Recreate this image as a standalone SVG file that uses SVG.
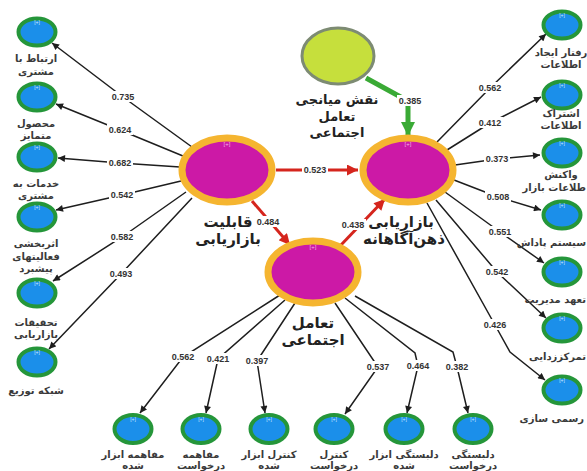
<svg xmlns="http://www.w3.org/2000/svg" width="587" height="471" viewBox="0 0 587 471">
<style>
.sm{fill:#1b8fea;stroke:#25963a;stroke-width:4}
.mn{fill:#cc19a6;stroke:#f5b530;stroke-width:7}
.lm{fill:#c6df3c;stroke:#7d8b73;stroke-width:3}
.pl{font-family:"Liberation Sans",sans-serif;font-size:5px;fill:#cfe9ff;text-anchor:middle}
.pm{font-family:"Liberation Sans",sans-serif;font-size:6px;fill:#f3b5e2;text-anchor:middle}
.lb{font-family:"DejaVu Sans","Noto Sans",sans-serif;font-size:10px;font-weight:bold;fill:#3a3a3a;text-anchor:middle}
.lbe{font-family:"DejaVu Sans","Noto Sans",sans-serif;font-size:10px;font-weight:bold;fill:#3a3a3a;text-anchor:end}
.big{font-family:"DejaVu Sans","Noto Sans",sans-serif;font-size:15px;font-weight:bold;fill:#222;text-anchor:middle}
.mid{font-family:"DejaVu Sans","Noto Sans",sans-serif;font-size:13px;font-weight:bold;fill:#222;text-anchor:middle}
.num{font-family:"Liberation Sans",sans-serif;font-size:9px;font-weight:bold;fill:#333;text-anchor:middle}
.bk{fill:none;stroke:#1e1e1e;stroke-width:1.5;marker-end:url(#ab)}
.rd{fill:none;stroke:#d5251d;stroke-width:3;marker-end:url(#ar)}
.gr{fill:none;stroke:#3aaa35;stroke-width:5;marker-end:url(#ag)}
.bg{fill:#fff}
</style>
<defs>
<marker id="ab" viewBox="0 0 10 10" refX="10" refY="5" markerWidth="8" markerHeight="7" markerUnits="userSpaceOnUse" orient="auto"><path d="M0,0 L10,5 L0,10 z" fill="#1e1e1e"/></marker>
<marker id="ar" viewBox="0 0 10 10" refX="10" refY="5" markerWidth="13" markerHeight="11" markerUnits="userSpaceOnUse" orient="auto"><path d="M0,0 L10,5 L0,10 z" fill="#d5251d"/></marker>
<marker id="ag" viewBox="0 0 10 10" refX="10" refY="5" markerWidth="14" markerHeight="15" markerUnits="userSpaceOnUse" orient="auto"><path d="M0,0 L10,5 L0,10 z" fill="#3aaa35"/></marker>
</defs>
<rect width="587" height="471" fill="#fff"/>
<g id="connectors">
<polyline class="bk" points="192,147 123,97 52,43"/>
<polyline class="bk" points="183,156 120,130 56,104"/>
<polyline class="bk" points="180,167 120,163 58,158"/>
<polyline class="bk" points="181,181 122,195 56,210"/>
<polyline class="bk" points="186,192 122,237 53,281"/>
<polyline class="bk" points="192,198 121,274 49,349"/>
<polyline class="bk" points="437,142 490,88 546,34"/>
<polyline class="bk" points="447,150 490,123 541,97"/>
<polyline class="bk" points="455,165 497,159 540,155"/>
<polyline class="bk" points="454,180 498,197 541,210"/>
<polyline class="bk" points="445,192 500,232 544,263"/>
<polyline class="bk" points="436,200 497,272 546,318"/>
<polyline class="bk" points="427,203 495,325 510,352 545,380"/>
<polyline class="bk" points="280,295 183,357 140,413"/>
<polyline class="bk" points="285,300 218,359 206,413"/>
<polyline class="bk" points="295,303 257,361 265,413"/>
<polyline class="bk" points="335,303 378,367 345,414"/>
<polyline class="bk" points="345,298 415,353 418,366 407,413"/>
<polyline class="bk" points="355,296 453,352 457,367 468,413"/>
<polyline class="rd" points="276,170 358,170"/>
<polyline class="rd" points="252,201 290,245"/>
<polyline class="rd" points="340,246 385,199"/>
<polyline class="gr" points="366,78 408,101 408,136"/>
<g id="weights">
<rect class="bg" x="110" y="91" width="26" height="11"/><text class="num" x="123" y="100">0.735</text>
<rect class="bg" x="107" y="124" width="26" height="11"/><text class="num" x="120" y="133">0.624</text>
<rect class="bg" x="107" y="157" width="26" height="11"/><text class="num" x="120" y="166">0.682</text>
<rect class="bg" x="109" y="189" width="26" height="11"/><text class="num" x="122" y="198">0.542</text>
<rect class="bg" x="109" y="231" width="26" height="11"/><text class="num" x="122" y="240">0.582</text>
<rect class="bg" x="108" y="268" width="26" height="11"/><text class="num" x="121" y="277">0.493</text>
<rect class="bg" x="477" y="82" width="26" height="11"/><text class="num" x="490" y="91">0.562</text>
<rect class="bg" x="477" y="117" width="26" height="11"/><text class="num" x="490" y="126">0.412</text>
<rect class="bg" x="484" y="153" width="26" height="11"/><text class="num" x="497" y="162">0.373</text>
<rect class="bg" x="485" y="191" width="26" height="11"/><text class="num" x="498" y="200">0.508</text>
<rect class="bg" x="487" y="226" width="26" height="11"/><text class="num" x="500" y="235">0.551</text>
<rect class="bg" x="484" y="266" width="26" height="11"/><text class="num" x="497" y="275">0.542</text>
<rect class="bg" x="482" y="319" width="26" height="11"/><text class="num" x="495" y="328">0.426</text>
<rect class="bg" x="170" y="351" width="26" height="11"/><text class="num" x="183" y="360">0.562</text>
<rect class="bg" x="205" y="353" width="26" height="11"/><text class="num" x="218" y="362">0.421</text>
<rect class="bg" x="244" y="355" width="26" height="11"/><text class="num" x="257" y="364">0.397</text>
<rect class="bg" x="365" y="361" width="26" height="11"/><text class="num" x="378" y="370">0.537</text>
<rect class="bg" x="405" y="360" width="26" height="11"/><text class="num" x="418" y="369">0.464</text>
<rect class="bg" x="444" y="361" width="26" height="11"/><text class="num" x="457" y="370">0.382</text>
<rect class="bg" x="302" y="164" width="26" height="11"/><text class="num" x="315" y="173">0.523</text>
<rect class="bg" x="255" y="216" width="26" height="11"/><text class="num" x="268" y="225">0.484</text>
<rect class="bg" x="340" y="219" width="26" height="11"/><text class="num" x="353" y="228">0.438</text>
<rect class="bg" x="397" y="95" width="26" height="11"/><text class="num" x="410" y="104">0.385</text>
</g>
</g>
<g id="n-qabeliat"><ellipse class="mn" cx="227" cy="170" rx="45" ry="32"/><text class="pm" x="227" y="146">[+]</text><text class="big" x="228" y="227">قابلیت</text><text class="big" x="228" y="244">بازاریابی</text></g>
<g id="n-zehn"><ellipse class="mn" cx="408" cy="170" rx="45" ry="32"/><text class="pm" x="408" y="146">[+]</text><text class="big" x="401" y="227">بازاریابی</text><text class="big" x="404" y="244">ذهن‌آگاهانه</text></g>
<g id="n-taamol"><ellipse class="mn" cx="313" cy="272" rx="45" ry="31"/><text class="pm" x="313" y="249">[+]</text><text class="big" x="313" y="328">تعامل</text><text class="big" x="313" y="345">اجتماعی</text></g>
<g id="n-miyanji"><ellipse class="lm" cx="338" cy="56" rx="36" ry="28"/><text class="mid" x="337" y="104">نقش میانجی</text><text class="mid" x="337" y="121">تعامل</text><text class="mid" x="337" y="137">اجتماعی</text></g>
<g id="l1"><ellipse class="sm" cx="37" cy="32" rx="18.5" ry="13.5"/><text class="pl" x="37" y="24">[+]</text><text class="lb" x="36" y="62">ارتباط با</text><text class="lb" x="36" y="75">مشتری</text></g>
<g id="l2"><ellipse class="sm" cx="37" cy="97" rx="18.5" ry="13.5"/><text class="pl" x="37" y="89">[+]</text><text class="lb" x="36" y="127">محصول</text><text class="lb" x="36" y="139">متمایز</text></g>
<g id="l3"><ellipse class="sm" cx="37" cy="157" rx="18.5" ry="13.5"/><text class="pl" x="37" y="149">[+]</text><text class="lb" x="36" y="187">خدمات به</text><text class="lb" x="36" y="199">مشتری</text></g>
<g id="l4"><ellipse class="sm" cx="37" cy="217" rx="18.5" ry="13.5"/><text class="pl" x="37" y="209">[+]</text><text class="lb" x="36" y="247">اثربخشی</text><text class="lb" x="36" y="260">فعالیتهای</text><text class="lb" x="36" y="272">پیشبرد</text></g>
<g id="l5"><ellipse class="sm" cx="37" cy="293" rx="18.5" ry="13.5"/><text class="pl" x="37" y="285">[+]</text><text class="lb" x="36" y="326">تحقیقات</text><text class="lb" x="36" y="338">بازاریابی</text></g>
<g id="l6"><ellipse class="sm" cx="37" cy="362" rx="18.5" ry="13.5"/><text class="pl" x="37" y="354">[+]</text><text class="lb" x="36" y="394">شبکه توزیع</text></g>
<g id="r1"><ellipse class="sm" cx="562" cy="25" rx="18.5" ry="13.5"/><text class="pl" x="562" y="17">[+]</text><text class="lb" x="561" y="56">رفتار ایجاد</text><text class="lb" x="561" y="68">اطلاعات</text></g>
<g id="r2"><ellipse class="sm" cx="562" cy="95" rx="18.5" ry="13.5"/><text class="pl" x="562" y="87">[+]</text><text class="lb" x="561" y="117">اشتراک</text><text class="lb" x="561" y="129">اطلاعات</text></g>
<g id="r3"><ellipse class="sm" cx="562" cy="153" rx="18.5" ry="13.5"/><text class="pl" x="562" y="145">[+]</text><text class="lb" x="561" y="178">واکنش</text><text class="lbe" x="586" y="191">طلاعات بازار</text></g>
<g id="r4"><ellipse class="sm" cx="562" cy="215" rx="18.5" ry="13.5"/><text class="pl" x="562" y="207">[+]</text><text class="lbe" x="586" y="246">سیستم پاداش</text></g>
<g id="r5"><ellipse class="sm" cx="562" cy="272" rx="18.5" ry="13.5"/><text class="pl" x="562" y="264">[+]</text><text class="lbe" x="586" y="303">تعهد مدیریت</text></g>
<g id="r6"><ellipse class="sm" cx="562" cy="328" rx="18.5" ry="13.5"/><text class="pl" x="562" y="320">[+]</text><text class="lbe" x="586" y="360">تمرکززدایی</text></g>
<g id="r7"><ellipse class="sm" cx="562" cy="390" rx="18.5" ry="13.5"/><text class="pl" x="562" y="382">[+]</text><text class="lbe" x="584" y="422">رسمی سازی</text></g>
<g id="b1"><ellipse class="sm" cx="133" cy="429" rx="18.5" ry="14"/><text class="pl" x="133" y="421">[+]</text><text class="lb" x="133" y="458">مفاهمه ابزار</text><text class="lb" x="133" y="469">شده</text></g>
<g id="b2"><ellipse class="sm" cx="201" cy="429" rx="18.5" ry="14"/><text class="pl" x="201" y="421">[+]</text><text class="lb" x="201" y="458">مفاهمه</text><text class="lb" x="201" y="469">درخواست</text></g>
<g id="b3"><ellipse class="sm" cx="269" cy="429" rx="18.5" ry="14"/><text class="pl" x="269" y="421">[+]</text><text class="lb" x="269" y="458">کنترل ابزار</text><text class="lb" x="269" y="469">شده</text></g>
<g id="b4"><ellipse class="sm" cx="334" cy="429" rx="18.5" ry="14"/><text class="pl" x="334" y="421">[+]</text><text class="lb" x="334" y="458">کنترل</text><text class="lb" x="334" y="469">درخواست</text></g>
<g id="b5"><ellipse class="sm" cx="404" cy="429" rx="18.5" ry="14"/><text class="pl" x="404" y="421">[+]</text><text class="lb" x="404" y="458">دلبستگی ابزار</text><text class="lb" x="404" y="469">شده</text></g>
<g id="b6"><ellipse class="sm" cx="473" cy="429" rx="18.5" ry="14"/><text class="pl" x="473" y="421">[+]</text><text class="lb" x="473" y="458">دلبستگی</text><text class="lb" x="473" y="469">درخواست</text></g>
</svg>
